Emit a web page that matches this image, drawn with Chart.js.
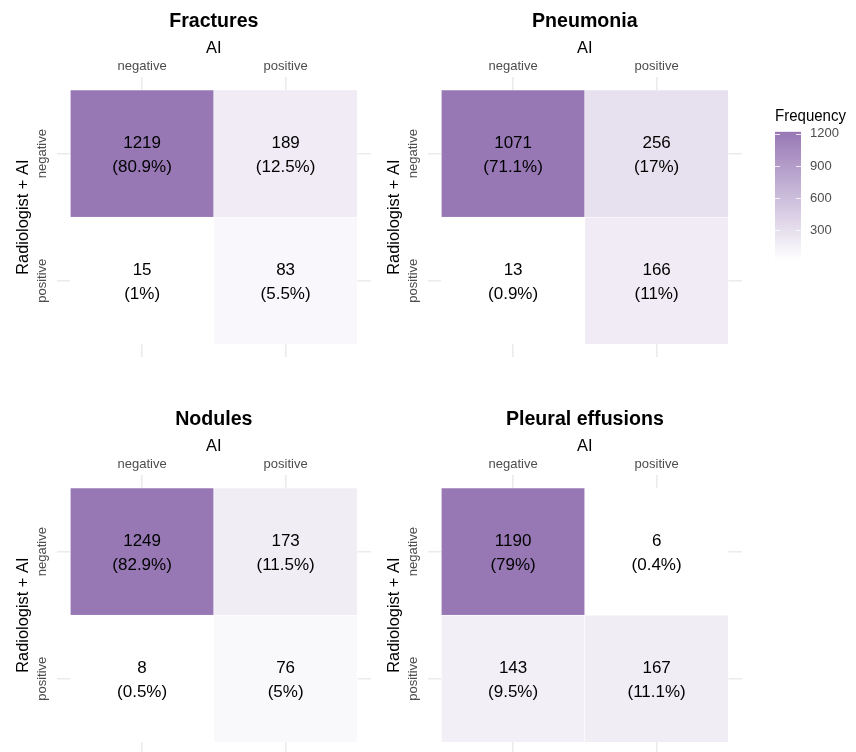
<!DOCTYPE html>
<html>
<head>
<meta charset="utf-8">
<script src="https://cdn.jsdelivr.net/npm/chart.js@4.4.1/dist/chart.umd.min.js"></script>
<style>
  html, body { margin: 0; padding: 0; background: #fff; }
  body { width: 856px; height: 752px; overflow: hidden; position: relative; }
  canvas { position: absolute; }
</style>
</head>
<body>
<canvas id="p0" width="372" height="358" style="left:0px;top:0px"></canvas>
<canvas id="p1" width="372" height="358" style="left:371px;top:0px"></canvas>
<canvas id="p2" width="372" height="358" style="left:0px;top:398px"></canvas>
<canvas id="p3" width="372" height="358" style="left:371px;top:398px"></canvas>
<canvas id="legend" width="91" height="181" style="left:765px;top:100px"></canvas>
<script>
// categories
const aiLabels = ['negative', 'positive'];      // columns (AI)
const radLabels = ['negative', 'positive'];     // rows (Radiologist + AI)
const panelTitles = ['Fractures', 'Pneumonia', 'Nodules', 'Pleural effusions'];

// counts, row by row: [rad neg/AI neg, rad neg/AI pos, rad pos/AI neg, rad pos/AI pos]
const fractures = [1219, 189, 15, 83];
const pneumonia = [1071, 256, 13, 166];
const nodules   = [1249, 173, 8, 76];
const pleural   = [1190, 6, 143, 167];

// colour bar ticks (the bar shown belongs to the Fractures panel)
const legendTicks = [300, 600, 900, 1200];
const legendCounts = fractures;

const panels = [fractures, pneumonia, nodules, pleural];

Chart.defaults.font.family = "'Liberation Sans', Arial, Helvetica, sans-serif";
Chart.defaults.animation = false;

// every panel has its own white -> purple scale
const LOW = [255, 255, 255];
const HIGH = [151, 120, 181];
function fill(v, lo, hi) {
  let t = (v - lo) / (hi - lo);
  t = Math.max(0, Math.min(1, t));
  const c = LOW.map((a, k) => Math.round(a + (HIGH[k] - a) * t));
  return 'rgb(' + c.join(',') + ')';
}

// rotated row labels next to the tiles
const rowLabels = {
  id: 'rowLabels',
  afterDraw(chart) {
    const s = chart.scales.y, c = chart.ctx;
    c.save();
    c.font = "13px 'Liberation Sans', Arial, sans-serif";
    c.fillStyle = '#4D4D4D';
    c.textAlign = 'center';
    c.textBaseline = 'middle';
    s.ticks.forEach(t => {
      c.save();
      c.translate(chart.chartArea.left - 14.2, s.getPixelForValue(t.value));
      c.rotate(-Math.PI / 2);
      c.fillText(t.label, 0, 0);
      c.restore();
    });
    c.restore();
  }
};

// count + percent inside every tile
const cellText = {
  id: 'cellText',
  afterDatasetsDraw(chart) {
    const ds = chart.data.datasets[0];
    const total = ds.counts.reduce((a, b) => a + b, 0);
    const c = chart.ctx;
    c.save();
    c.font = "17px 'Liberation Sans', Arial, sans-serif";
    c.fillStyle = '#000';
    c.textAlign = 'center';
    c.textBaseline = 'middle';
    chart.getDatasetMeta(0).data.forEach((bar, i) => {
      const p = bar.getProps(['x', 'y', 'base'], true);
      const cy = (p.y + p.base) / 2;
      const n = ds.counts[i];
      const pct = Math.round(n / total * 1000) / 10;
      c.fillText(String(n), p.x, cy - 10.5);
      c.fillText('(' + pct + '%)', p.x, cy + 13.5);
    });
    c.restore();
  }
};

const gridOpts = { color: '#EBEBEB', lineWidth: 1.6, drawTicks: false, offset: false };

panels.forEach((counts, pi) => {
  const lo = Math.min(...counts), hi = Math.max(...counts);
  const pts = counts.map((n, i) => {
    const col = i % aiLabels.length;
    const row = Math.floor(i / aiLabels.length);
    const top = radLabels.length - row;
    return { x: col + 0.5, y: [top - 1, top] };
  });
  new Chart(document.getElementById('p' + pi), {
    type: 'bar',
    data: {
      datasets: [{
        data: pts,
        counts: counts,
        backgroundColor: counts.map(n => fill(n, lo, hi)),
        borderColor: '#ffffff',
        borderWidth: 0.6,
        borderSkipped: false,
        barPercentage: 1,
        categoryPercentage: 1
      }]
    },
    options: {
      responsive: false,
      events: [],
      layout: { padding: { left: 0, right: 1, top: 0, bottom: 1 } },
      plugins: {
        legend: { display: false },
        tooltip: { enabled: false },
        title: {
          display: true,
          text: panelTitles[pi],
          fullSize: false,
          color: '#000',
          font: { size: 19.6, weight: 'bold' },
          padding: { top: 9.5, bottom: 5.1 }
        }
      },
      scales: {
        x: {
          type: 'linear',
          position: 'top',
          min: -0.095,
          max: 2.095,
          offset: false,
          afterBuildTicks: s => { s.ticks = aiLabels.map((_, i) => ({ value: i + 0.5 })); },
          ticks: {
            callback: (v, i) => aiLabels[i],
            color: '#4D4D4D',
            font: { size: 13 },
            padding: 3.6
          },
          grid: gridOpts,
          border: { display: false },
          title: {
            display: true,
            text: 'AI',
            color: '#000',
            font: { size: 16.4 },
            padding: { top: 0.6, bottom: -3.84 }
          }
        },
        y: {
          type: 'linear',
          min: -0.1,
          max: 2.1,
          afterBuildTicks: s => { s.ticks = radLabels.map((_, i) => ({ value: radLabels.length - i - 0.5 })); },
          ticks: { display: false, callback: (v, i) => radLabels[i] },
          grid: gridOpts,
          border: { display: false },
          title: {
            display: true,
            text: 'Radiologist + AI',
            color: '#000',
            font: { size: 16.4 },
            padding: { top: 13.16, bottom: 23.86 }
          }
        }
      }
    },
    plugins: [rowLabels, cellText]
  });
});

// colour bar
const barTicks = {
  id: 'barTicks',
  afterDatasetsDraw(chart) {
    const s = chart.scales.y, a = chart.chartArea, c = chart.ctx;
    c.save();
    c.strokeStyle = 'rgba(255,255,255,0.8)';
    c.lineWidth = 1;
    s.ticks.forEach(t => {
      const y = Math.round(s.getPixelForValue(t.value)) + 0.5;
      c.beginPath();
      c.moveTo(a.left, y); c.lineTo(a.left + 5, y);
      c.moveTo(a.right - 5, y); c.lineTo(a.right, y);
      c.stroke();
    });
    c.restore();
  }
};

const legLo = Math.min(...legendCounts), legHi = Math.max(...legendCounts);
new Chart(document.getElementById('legend'), {
  type: 'bar',
  data: {
    labels: ['Frequency'],
    datasets: [{
      data: [[legLo, legHi]],
      backgroundColor: ctx => {
        const a = ctx.chart.chartArea;
        if (!a) return null;
        const g = ctx.chart.ctx.createLinearGradient(0, a.bottom, 0, a.top);
        for (let k = 0; k <= 10; k++) g.addColorStop(k / 10, fill(legLo + (legHi - legLo) * k / 10, legLo, legHi));
        return g;
      },
      barPercentage: 1,
      categoryPercentage: 1
    }]
  },
  options: {
    responsive: false,
    events: [],
    layout: { padding: { left: 10, right: 10, top: 0, bottom: 20 } },
    plugins: {
      legend: { display: false },
      tooltip: { enabled: false },
      title: {
        display: true,
        text: 'Frequency',
        align: 'start',
        color: '#000',
        font: { size: 16.2, weight: 'normal' },
        padding: { top: 7.28, bottom: 4.98 }
      }
    },
    scales: {
      x: { display: false },
      y: {
        position: 'right',
        min: legLo,
        max: legHi,
        afterBuildTicks: s => { s.ticks = legendTicks.map(v => ({ value: v })); },
        afterFit: s => { s.width = 45; },
        ticks: { color: '#4D4D4D', font: { size: 13 }, padding: 9, callback: v => String(v) },
        grid: { display: false, drawTicks: false },
        border: { display: false }
      }
    }
  },
  plugins: [barTicks]
});
</script>
</body>
</html>
